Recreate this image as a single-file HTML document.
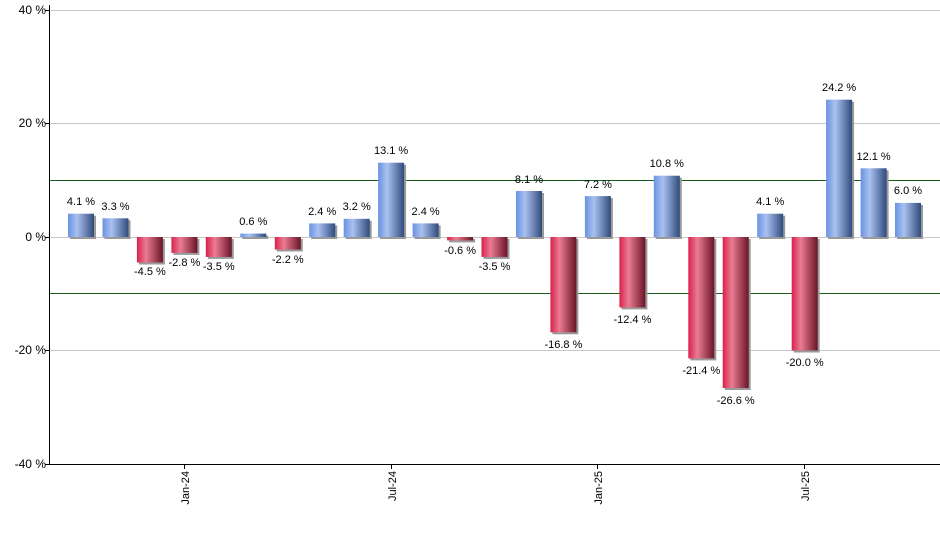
<!DOCTYPE html>
<html><head><meta charset="utf-8"><style>body{margin:0;background:#fff}svg{display:block;font-family:"Liberation Sans",sans-serif}</style></head><body>
<svg width="940" height="550" viewBox="0 0 940 550">
<defs>
<linearGradient id="b" x1="0" x2="1"><stop offset="0" stop-color="#6a92e2"/><stop offset="0.35" stop-color="#a9c1f0"/><stop offset="1" stop-color="#2f4b7c"/></linearGradient>
<linearGradient id="r" x1="0" x2="1"><stop offset="0" stop-color="#d8214c"/><stop offset="0.35" stop-color="#ea7c93"/><stop offset="1" stop-color="#6a1427"/></linearGradient>
</defs>
<g stroke="#c8c8c8" stroke-width="1">
<line x1="50" x2="940" y1="10.5" y2="10.5"/><line x1="50" x2="940" y1="123.5" y2="123.5"/><line x1="50" x2="940" y1="237.5" y2="237.5"/><line x1="50" x2="940" y1="350.5" y2="350.5"/>
</g>
<g stroke="#1a5c1a" stroke-width="1"><line x1="50" x2="940" y1="180.5" y2="180.5"/><line x1="50" x2="940" y1="293.5" y2="293.5"/></g>
<line x1="49.5" x2="49.5" y1="5" y2="464" stroke="#000"/>
<line x1="45" x2="940" y1="464.5" y2="464.5" stroke="#000"/>
<g stroke="#000"><line x1="45" x2="49" y1="10.5" y2="10.5"/><line x1="45" x2="49" y1="123.5" y2="123.5"/><line x1="45" x2="49" y1="237.5" y2="237.5"/><line x1="45" x2="49" y1="350.5" y2="350.5"/>
<line x1="184.5" x2="184.5" y1="464" y2="469"/><line x1="391.5" x2="391.5" y1="464" y2="469"/><line x1="597.5" x2="597.5" y1="464" y2="469"/><line x1="804.5" x2="804.5" y1="464" y2="469"/></g>
<g font-size="12" fill="#000" text-anchor="end">
<text x="46" y="14">40 %</text><text x="46" y="127">20 %</text><text x="46" y="241">0 %</text><text x="46" y="354">-20 %</text><text x="46" y="468">-40 %</text>
</g>
<g font-size="11" fill="#000" text-anchor="end">
<text transform="translate(189,471) rotate(-90)">Jan-24</text>
<text transform="translate(396,471) rotate(-90)">Jul-24</text>
<text transform="translate(602,471) rotate(-90)">Jan-25</text>
<text transform="translate(809,471) rotate(-90)">Jul-25</text>
</g>
<g fill="#9a9a9a">
<rect x="70" y="215.7" width="26" height="23.3"/><rect x="104.5" y="220.3" width="26" height="18.7"/><rect x="138.9" y="239" width="26" height="25.5"/><rect x="173.4" y="239" width="26" height="15.9"/><rect x="207.8" y="239" width="26" height="19.9"/><rect x="242.3" y="235.6" width="26" height="3.4"/><rect x="276.8" y="239" width="26" height="12.5"/><rect x="311.2" y="225.4" width="26" height="13.6"/><rect x="345.7" y="220.8" width="26" height="18.2"/><rect x="380.1" y="164.7" width="26" height="74.3"/><rect x="414.6" y="225.4" width="26" height="13.6"/><rect x="449.1" y="239" width="26" height="3.4"/><rect x="483.5" y="239" width="26" height="19.9"/><rect x="518" y="193" width="26" height="46"/><rect x="552.4" y="239" width="26" height="95.3"/><rect x="586.9" y="198.1" width="26" height="40.9"/><rect x="621.4" y="239" width="26" height="70.4"/><rect x="655.8" y="177.7" width="26" height="61.3"/><rect x="690.3" y="239" width="26" height="121.4"/><rect x="724.7" y="239" width="26" height="151"/><rect x="759.2" y="215.7" width="26" height="23.3"/><rect x="793.7" y="239" width="26" height="113.5"/><rect x="828.1" y="101.7" width="26" height="137.3"/><rect x="862.6" y="170.3" width="26" height="68.7"/><rect x="897" y="204.9" width="26" height="34.1"/>
</g>
<g>
<rect fill="url(#b)" x="68" y="213.7" width="26" height="23.3"/><rect fill="url(#b)" x="102.5" y="218.3" width="26" height="18.7"/><rect fill="url(#r)" x="136.9" y="237" width="26" height="25.5"/><rect fill="url(#r)" x="171.4" y="237" width="26" height="15.9"/><rect fill="url(#r)" x="205.8" y="237" width="26" height="19.9"/><rect fill="url(#b)" x="240.3" y="233.6" width="26" height="3.4"/><rect fill="url(#r)" x="274.8" y="237" width="26" height="12.5"/><rect fill="url(#b)" x="309.2" y="223.4" width="26" height="13.6"/><rect fill="url(#b)" x="343.7" y="218.8" width="26" height="18.2"/><rect fill="url(#b)" x="378.1" y="162.7" width="26" height="74.3"/><rect fill="url(#b)" x="412.6" y="223.4" width="26" height="13.6"/><rect fill="url(#r)" x="447.1" y="237" width="26" height="3.4"/><rect fill="url(#r)" x="481.5" y="237" width="26" height="19.9"/><rect fill="url(#b)" x="516" y="191" width="26" height="46"/><rect fill="url(#r)" x="550.4" y="237" width="26" height="95.3"/><rect fill="url(#b)" x="584.9" y="196.1" width="26" height="40.9"/><rect fill="url(#r)" x="619.4" y="237" width="26" height="70.4"/><rect fill="url(#b)" x="653.8" y="175.7" width="26" height="61.3"/><rect fill="url(#r)" x="688.3" y="237" width="26" height="121.4"/><rect fill="url(#r)" x="722.7" y="237" width="26" height="151"/><rect fill="url(#b)" x="757.2" y="213.7" width="26" height="23.3"/><rect fill="url(#r)" x="791.7" y="237" width="26" height="113.5"/><rect fill="url(#b)" x="826.1" y="99.7" width="26" height="137.3"/><rect fill="url(#b)" x="860.6" y="168.3" width="26" height="68.7"/><rect fill="url(#b)" x="895" y="202.9" width="26" height="34.1"/>
</g>
<g font-size="11" fill="#000" text-anchor="middle">
<text x="81" y="205">4.1 %</text><text x="115.5" y="210">3.3 %</text><text x="149.9" y="275">-4.5 %</text><text x="184.4" y="266">-2.8 %</text><text x="218.8" y="270">-3.5 %</text><text x="253.3" y="225">0.6 %</text><text x="287.8" y="263">-2.2 %</text><text x="322.2" y="215">2.4 %</text><text x="356.7" y="210">3.2 %</text><text x="391.1" y="154">13.1 %</text><text x="425.6" y="215">2.4 %</text><text x="460.1" y="254">-0.6 %</text><text x="494.5" y="270">-3.5 %</text><text x="529" y="183">8.1 %</text><text x="563.4" y="348">-16.8 %</text><text x="597.9" y="188">7.2 %</text><text x="632.4" y="323">-12.4 %</text><text x="666.8" y="167">10.8 %</text><text x="701.3" y="374">-21.4 %</text><text x="735.7" y="404">-26.6 %</text><text x="770.2" y="205">4.1 %</text><text x="804.7" y="366">-20.0 %</text><text x="839.1" y="91">24.2 %</text><text x="873.6" y="160">12.1 %</text><text x="908" y="194">6.0 %</text>
</g>
</svg>
</body></html>
